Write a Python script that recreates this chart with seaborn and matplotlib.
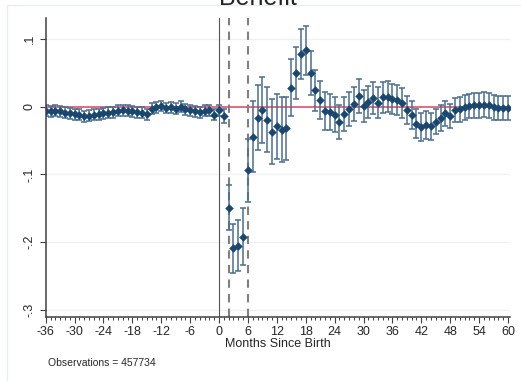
import numpy as np
import pandas as pd
import matplotlib
matplotlib.use("Agg")
import matplotlib.pyplot as plt
import seaborn as sns

# Coeficientes por mes desde el nacimiento (-36 .. 60)
meses = list(range(-36, 61))

coef_pre = [-0.006, -0.007, -0.006, -0.007, -0.009, -0.010, -0.011, -0.012,
            -0.014, -0.013, -0.012, -0.011, -0.010, -0.009, -0.008, -0.006,
            -0.005, -0.006, -0.007, -0.008, -0.009, -0.011, -0.003, -0.001,
            0.001, -0.002, -0.001, -0.003, 0.000, -0.004, -0.005, -0.007,
            -0.008, -0.006, -0.005, -0.012]
coef_post = [-0.005, -0.014, -0.149, -0.209, -0.205, -0.192, -0.094, -0.044,
             -0.016, -0.005, -0.019, -0.037, -0.029, -0.034, -0.032, 0.028,
             0.050, 0.078, 0.083, 0.050, 0.024, 0.010, -0.006, -0.008,
             -0.012, -0.022, -0.011, -0.004, 0.004, 0.016, 0.001, 0.007,
             0.013, 0.006, 0.014, 0.015, 0.011, 0.010, 0.006, -0.005,
             -0.012, -0.025, -0.030, -0.027, -0.029, -0.022, -0.017, -0.010,
             -0.014, -0.005, -0.004, -0.001, 0.001, 0.002, 0.002, 0.003,
             0.002, -0.001, -0.002, -0.002, -0.002]

ic_pre = [0.008] * 36
ic_post = [0.008, 0.010, 0.033, 0.036, 0.038, 0.042, 0.046, 0.052,
           0.048, 0.049, 0.048, 0.048, 0.048, 0.048, 0.047, 0.042,
           0.038, 0.037, 0.036, 0.032, 0.030, 0.028, 0.028, 0.027,
           0.026, 0.025, 0.025, 0.025, 0.025, 0.025, 0.024, 0.024,
           0.024, 0.023, 0.023, 0.023, 0.022, 0.022, 0.022, 0.021,
           0.021, 0.021, 0.020, 0.020, 0.020, 0.019, 0.019, 0.019,
           0.018, 0.018, 0.018, 0.018, 0.018, 0.018, 0.018, 0.018,
           0.018, 0.018, 0.018, 0.018, 0.018]

ticks_x = list(range(-36, 61, 6))
ticks_y = [0.1, 0.0, -0.1, -0.2, -0.3]
etiquetas_y = [".1", "0", "-.1", "-.2", "-.3"]
lineas_discontinuas = [2, 6]

df = pd.DataFrame({"mes": meses,
                   "coef": coef_pre + coef_post,
                   "ic": ic_pre + ic_post})

sns.set_theme(style="white")
plt.rcParams["font.family"] = ["Liberation Sans", "DejaVu Sans"]
plt.rcParams["axes.unicode_minus"] = False

fig = plt.figure(figsize=(5.21, 3.81), dpi=100)
ax = fig.add_axes([0.0877, 0.1688, 0.891, 0.784])

# rejilla suave
for v in ticks_y:
    ax.axhline(v, color="#eef2f7", lw=1, zorder=0)

ax.axhline(0, color="#d9485f", lw=1.1, zorder=1)
ax.axvline(0, color="#555555", lw=0.8, zorder=1)
for v in lineas_discontinuas:
    ax.axvline(v, color="#808080", lw=1.5, ls=(0, (4, 3)), zorder=1)

ax.errorbar(df["mes"], df["coef"], yerr=df["ic"], fmt="none",
            ecolor="#4a6d8f", elinewidth=1.1, capsize=2.3, capthick=1.1, zorder=2)
sns.scatterplot(data=df, x="mes", y="coef", marker="D", s=16, color="#1a476f",
                edgecolor="#1a476f", linewidth=0.3, ax=ax, zorder=3)

ax.set_xlim(-36, 60.4)
ax.set_ylim(-0.31, 0.131)
ax.set_xticks(ticks_x)
ax.set_xticks(meses, minor=True)
ax.set_yticks(ticks_y)
ax.set_yticklabels(etiquetas_y, rotation=90, va="center")
ax.tick_params(axis="both", which="major", labelsize=9, length=4, width=0.8,
               color="#404040", direction="out", bottom=True, left=True, pad=3)
ax.tick_params(axis="x", which="minor", length=2.5, width=0.7, color="#404040",
               direction="out", bottom=True)
ax.set_xlabel("Months Since Birth", fontsize=9, labelpad=0)
ax.set_ylabel("")

for s in ["top", "right"]:
    ax.spines[s].set_visible(False)
for s in ["left", "bottom"]:
    ax.spines[s].set_color("#404040")
    ax.spines[s].set_linewidth(1.1)

fig.text(258 / 521, 1 - 5 / 381, "Benefit", fontsize=18, ha="center", va="baseline")
fig.text(48 / 521, 1 - 366 / 381, "Observations = 457734", fontsize=7.5)

# borde claro de la región del gráfico
fig.add_artist(plt.Line2D([7 / 521, 7 / 521], [0, 1 - 5 / 381], color="#e6edf5", lw=1))
fig.add_artist(plt.Line2D([7 / 521, 1], [1 - 5 / 381, 1 - 5 / 381], color="#e6edf5", lw=1))

fig.savefig("out.png", dpi=100)
